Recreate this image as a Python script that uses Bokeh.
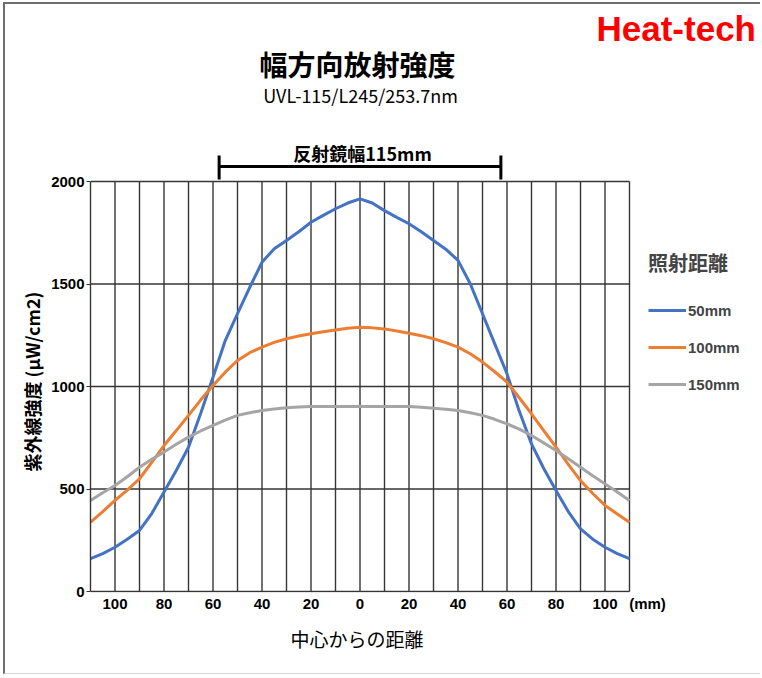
from bokeh.plotting import figure
from bokeh.models import Range1d, FixedTicker, Label, Legend, LegendItem, Title
from bokeh.embed import file_html
from bokeh.resources import INLINE

# ---------------- data ----------------
distance_mm = [-110, -105, -100, -95, -90, -85, -80, -75, -70, -65, -60, -55, -50, -45,
               -40, -35, -30, -25, -20, -15, -10, -5, 0, 5, 10, 15, 20, 25, 30, 35, 40,
               45, 50, 55, 60, 65, 70, 75, 80, 85, 90, 95, 100, 105, 110]
irr_50mm = [160, 185, 216, 255, 298, 380, 485, 590, 704, 870, 1045, 1224, 1355, 1484,
            1606, 1672, 1712, 1755, 1801, 1835, 1867, 1895, 1915, 1895, 1858, 1825, 1794,
            1755, 1712, 1670, 1615, 1501, 1355, 1208, 1062, 880, 720, 600, 493, 390, 306,
            255, 216, 185, 160]
irr_100mm = [338, 390, 444, 495, 550, 630, 712, 785, 859, 935, 1005, 1070, 1127, 1165,
             1192, 1215, 1233, 1246, 1257, 1267, 1276, 1284, 1289, 1286, 1281, 1271, 1260,
             1248, 1233, 1214, 1192, 1160, 1119, 1072, 1021, 945, 867, 785, 704, 620, 541,
             478, 420, 378, 338]
irr_150mm = [444, 482, 517, 560, 606, 645, 680, 718, 753, 783, 810, 836, 859, 872,
             883, 890, 896, 900, 902, 903, 903, 903, 903, 903, 903, 903, 902,
             899, 894, 889, 883, 872, 859, 840, 818, 792, 761, 725, 688, 648, 606,
             565, 525, 485, 444]
series_labels = ["50mm", "100mm", "150mm"]
series_colors = ["#4472C4", "#ED7D31", "#A5A5A5"]
x_tick_values = [-100, -80, -60, -40, -20, 0, 20, 40, 60, 80, 100]
x_tick_labels = ["100", "80", "60", "40", "20", "0", "20", "40", "60", "80", "100"]
x_unit_label = "(mm)"
x_grid_values = list(range(-100, 101, 10))
y_tick_values = [0, 500, 1000, 1500, 2000]
x_limits = (-110, 110)
y_limits = (0, 2000)
reflector_width_mm = 115

# ---------------- layout helpers (screen pixels of the 762x678 picture) ----------------
CANVAS_L, CANVAS_T = 5, 4          # canvas origin after the picture frame border
W, H = 757, 672                    # canvas size
FRAME_L_PX, FRAME_B_PX = 90, 592   # plotting frame left / bottom on screen
ML = FRAME_L_PX - CANVAS_L
MB = (CANVAS_T + H) - FRAME_B_PX
X_ZERO_PX = FRAME_L_PX             # screen x of x = -110
Y_ZERO_PX = FRAME_B_PX - 1         # screen y of irradiance 0
PXMM = 539 / 220.0                 # px per mm
PXU = 410 / 2000.0                 # px per irradiance unit


def dx(px):
    return x_limits[0] + (px - X_ZERO_PX) / PXMM


def dy(py):
    return (Y_ZERO_PX - py) / PXU


p = figure(width=W, height=H, output_backend="svg", toolbar_location=None,
           x_range=Range1d(dx(FRAME_L_PX), dx(CANVAS_L + W)),
           y_range=Range1d(dy(FRAME_B_PX), dy(CANVAS_T)),
           min_border_left=ML, min_border_right=0, min_border_top=0, min_border_bottom=MB)
p.styles = {"margin-left": "3px", "margin-top": "2px",
            "border-left": "2px solid #6e6e6e", "border-top": "2px solid #6e6e6e",
            "border-bottom": "1px solid #d4d4d4"}
p.xgrid.visible = False
p.ygrid.visible = False
p.outline_line_color = None
p.background_fill_color = "white"
p.border_fill_color = "white"

GRID = "#363636"
GW = 1.4

# x axis: labels only (frame line drawn below)
xa = p.xaxis[0]
unit_pos = dx(647)
xa.ticker = FixedTicker(ticks=x_tick_values + [unit_pos])
overrides = {v: t for v, t in zip(x_tick_values, x_tick_labels)}
overrides[unit_pos] = x_unit_label
xa.major_label_overrides = overrides
xa.axis_line_color = None
xa.major_tick_out = 0
xa.major_tick_in = 0
xa.minor_tick_out = 0
xa.minor_tick_in = 0
xa.major_label_text_font = "Liberation Sans"
xa.major_label_text_font_style = "bold"
xa.major_label_text_font_size = "15px"
xa.major_label_text_color = "black"
xa.major_label_standoff = 2

ya = p.yaxis[0]
ya.bounds = y_limits
ya.ticker = FixedTicker(ticks=y_tick_values)
ya.major_tick_out = 4
ya.major_tick_in = 0
ya.minor_tick_out = 0
ya.minor_tick_in = 0
ya.axis_line_color = GRID
ya.axis_line_width = GW
ya.major_tick_line_color = GRID
ya.major_label_text_font = "Liberation Sans"
ya.major_label_text_font_style = "bold"
ya.major_label_text_font_size = "15px"
ya.major_label_text_color = "black"
ya.major_label_standoff = 2

# axis titles as side titles
p.add_layout(Title(text="紫外線強度 (μW/cm2)", align="left", offset=121,
                   text_font="Noto Sans CJK JP", text_font_style="bold",
                   text_font_size="18px", text_color="black", standoff=8), "left")
p.add_layout(Title(text="中心からの距離", align="left", offset=200,
                   text_font="Noto Sans CJK JP", text_font_style="normal",
                   text_font_size="19px", text_color="black", standoff=16), "below")

# grid lines and plot box (bounded to the plotting area)
p.segment(x0=x_grid_values, y0=y_limits[0], x1=x_grid_values, y1=y_limits[1],
          line_color=GRID, line_width=GW)
p.segment(x0=x_limits[1], y0=y_limits[0], x1=x_limits[1], y1=y_limits[1],
          line_color=GRID, line_width=GW)
p.segment(x0=x_limits[0], y0=y_tick_values, x1=x_limits[1], y1=y_tick_values,
          line_color=GRID, line_width=GW)

# curves
items = []
for ys, col, lab in zip([irr_50mm, irr_100mm, irr_150mm], series_colors, series_labels):
    r = p.line(distance_mm, ys, line_color=col, line_width=3)
    items.append(LegendItem(label=lab, renderers=[r]))

legend = Legend(items=items, location=(558, 198), margin=0, padding=10,
                title="照射距離", title_text_font="Noto Sans CJK JP",
                title_text_font_style="bold", title_text_font_size="20px",
                title_standoff=23,
                label_text_font="Liberation Sans", label_text_font_style="bold",
                label_text_font_size="15px",
                glyph_width=38, glyph_height=20, label_height=20, spacing=17,
                label_standoff=2, border_line_color=None, background_fill_alpha=0)
p.add_layout(legend)

# reflector width bar
half = reflector_width_mm / 2
p.segment(x0=-half, y0=dy(166), x1=half, y1=dy(166), line_color="black", line_width=3)
p.segment(x0=[-half, half], y0=dy(155), x1=[-half, half], y1=dy(179),
          line_color="black", line_width=3)
p.add_layout(Label(x=dx(362), y=dy(152), text="反射鏡幅115mm", text_align="center",
                   text_baseline="middle", text_font="Noto Sans CJK JP",
                   text_font_style="bold", text_font_size="18px", text_color="black"))

# titles
p.add_layout(Label(x=dx(357), y=dy(63), text="幅方向放射強度", text_align="center",
                   text_baseline="middle", text_font="Noto Sans CJK JP",
                   text_font_style="bold", text_font_size="28px", text_color="black"))
p.add_layout(Label(x=dx(360), y=dy(94), text="UVL-115/L245/253.7nm", text_align="center",
                   text_baseline="middle", text_font="Noto Sans CJK JP",
                   text_font_size="18px", text_color="black"))
p.add_layout(Label(x=dx(596), y=dy(28), text="Heat-tech", text_align="left",
                   text_baseline="middle", text_font="Liberation Sans",
                   text_font_style="bold", text_font_size="35px", text_color="#ff0000"))

open("out.html", "w").write(file_html(p, INLINE))
